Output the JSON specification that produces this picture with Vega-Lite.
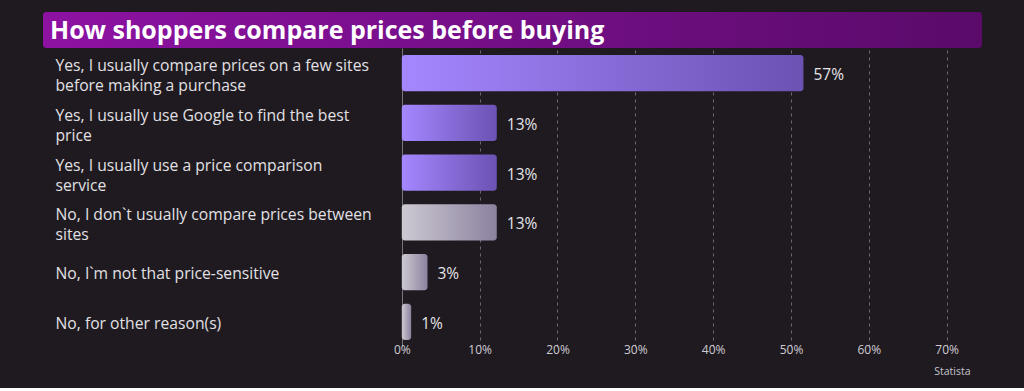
{
  "$schema": "https://vega.github.io/schema/vega-lite/v6.json",
  "background": "#1e1a20",
  "padding": {"left": 43, "top": 12, "right": 42, "bottom": 11},
  "autosize": {"type": "pad"},
  "config": {
    "view": {"stroke": null},
    "font": "Open Sans"
  },
  "concat": [
    {
      "width": 939,
      "height": 36,
      "data": {"values": [{"title": "How shoppers compare prices before buying"}]},
      "layer": [
        {
          "mark": {
            "type": "rect",
            "cornerRadius": 3,
            "color": {
              "gradient": "linear",
              "x1": 0, "x2": 1, "y1": 0, "y2": 0,
              "stops": [
                {"offset": 0, "color": "#8d12a2"},
                {"offset": 1, "color": "#5a0b6a"}
              ]
            }
          },
          "encoding": {}
        },
        {
          "mark": {
            "type": "text",
            "align": "left",
            "baseline": "middle",
            "dx": 7,
            "dy": 1,
            "font": "Open Sans",
            "fontSize": 25,
            "fontWeight": "bold",
            "color": "#ffffff"
          },
          "encoding": {
            "x": {"datum": 0, "type": "quantitative", "scale": {"domain": [0, 1]}, "axis": null},
            "text": {"field": "title", "type": "nominal"}
          }
        }
      ]
    },
    {
      "width": 927,
      "height": 299,
      "data": {
        "values": [
          {"answer": "Yes, I usually compare prices on a few sites|before making a purchase", "value": 51.6, "label": "57%", "group": "yes"},
          {"answer": "Yes, I usually use Google  to find the best|price", "value": 12.2, "label": "13%", "group": "yes"},
          {"answer": "Yes, I usually use a price comparison|service", "value": 12.2, "label": "13%", "group": "yes"},
          {"answer": "No, I don`t usually compare prices between|sites", "value": 12.2, "label": "13%", "group": "no"},
          {"answer": "No, I`m not that price-sensitive", "value": 3.3, "label": "3%", "group": "no"},
          {"answer": "No, for other reason(s)", "value": 1.2, "label": "1%", "group": "no"}
        ]
      },
      "encoding": {
        "y": {
          "field": "answer",
          "type": "nominal",
          "sort": null,
          "scale": {"paddingInner": 0.27, "paddingOuter": 0.14},
          "axis": {
            "title": null,
            "labelExpr": "split(datum.label, '|')",
            "labelAlign": "left",
            "labelBaseline": "middle",
            "labelPadding": -12,
            "labelOffset": {"condition": {"test": "indexof(datum.label, '|') >= 0", "value": -7}, "value": 2},
            "labelLimit": 400,
            "labelFont": "Open Sans",
            "labelFontSize": 15.7,
            "labelLineHeight": 20,
            "labelColor": "#e2e0e4",
            "ticks": false,
            "domain": false,
            "grid": false
          }
        },
        "x": {
          "field": "value",
          "type": "quantitative",
          "scale": {"domain": [-46.1, 73], "nice": false, "zero": false},
          "axis": {
            "values": [0, 10, 20, 30, 40, 50, 60, 70],
            "labelExpr": "datum.value + '%'",
            "labelFont": "Open Sans",
            "labelFontSize": 12,
            "labelColor": "#cfcbd2",
            "labelPadding": -3,
            "ticks": false,
            "domain": false,
            "grid": true,
            "gridColor": {"condition": {"test": "datum.value === 0", "value": "#7a7480"}, "value": "#6e6876"},
            "gridDash": {"condition": {"test": "datum.value === 0", "value": []}, "value": [3, 4]},
            "gridWidth": 1,
            "title": "Statista",
            "titleAnchor": "end",
            "titleFont": "Open Sans",
            "titleFontSize": 10.5,
            "titleFontWeight": "normal",
            "titleColor": "#c8c4cc",
            "titlePadding": 11
          }
        }
      },
      "layer": [
        {
          "transform": [{"filter": "datum.group === 'yes'"}],
          "mark": {
            "type": "bar",
            "cornerRadius": 3,
            "color": {
              "gradient": "linear",
              "x1": 0, "x2": 1, "y1": 0, "y2": 0,
              "stops": [
                {"offset": 0, "color": "#a587ff"},
                {"offset": 1, "color": "#6b52b3"}
              ]
            }
          },
          "encoding": {"x2": {"datum": 0}}
        },
        {
          "transform": [{"filter": "datum.group === 'no'"}],
          "mark": {
            "type": "bar",
            "cornerRadius": 3,
            "color": {
              "gradient": "linear",
              "x1": 0, "x2": 1, "y1": 0, "y2": 0,
              "stops": [
                {"offset": 0, "color": "#cdc9d1"},
                {"offset": 1, "color": "#8b82a0"}
              ]
            }
          },
          "encoding": {"x2": {"datum": 0}}
        },
        {
          "mark": {
            "type": "text",
            "align": "left",
            "baseline": "middle",
            "dx": 10,
            "dy": 2,
            "font": "Open Sans",
            "fontSize": 15.5,
            "color": "#e6e4e8"
          },
          "encoding": {
            "text": {"field": "label", "type": "nominal"}
          }
        }
      ]
    }
  ],
  "columns": 1,
  "spacing": 0
}
